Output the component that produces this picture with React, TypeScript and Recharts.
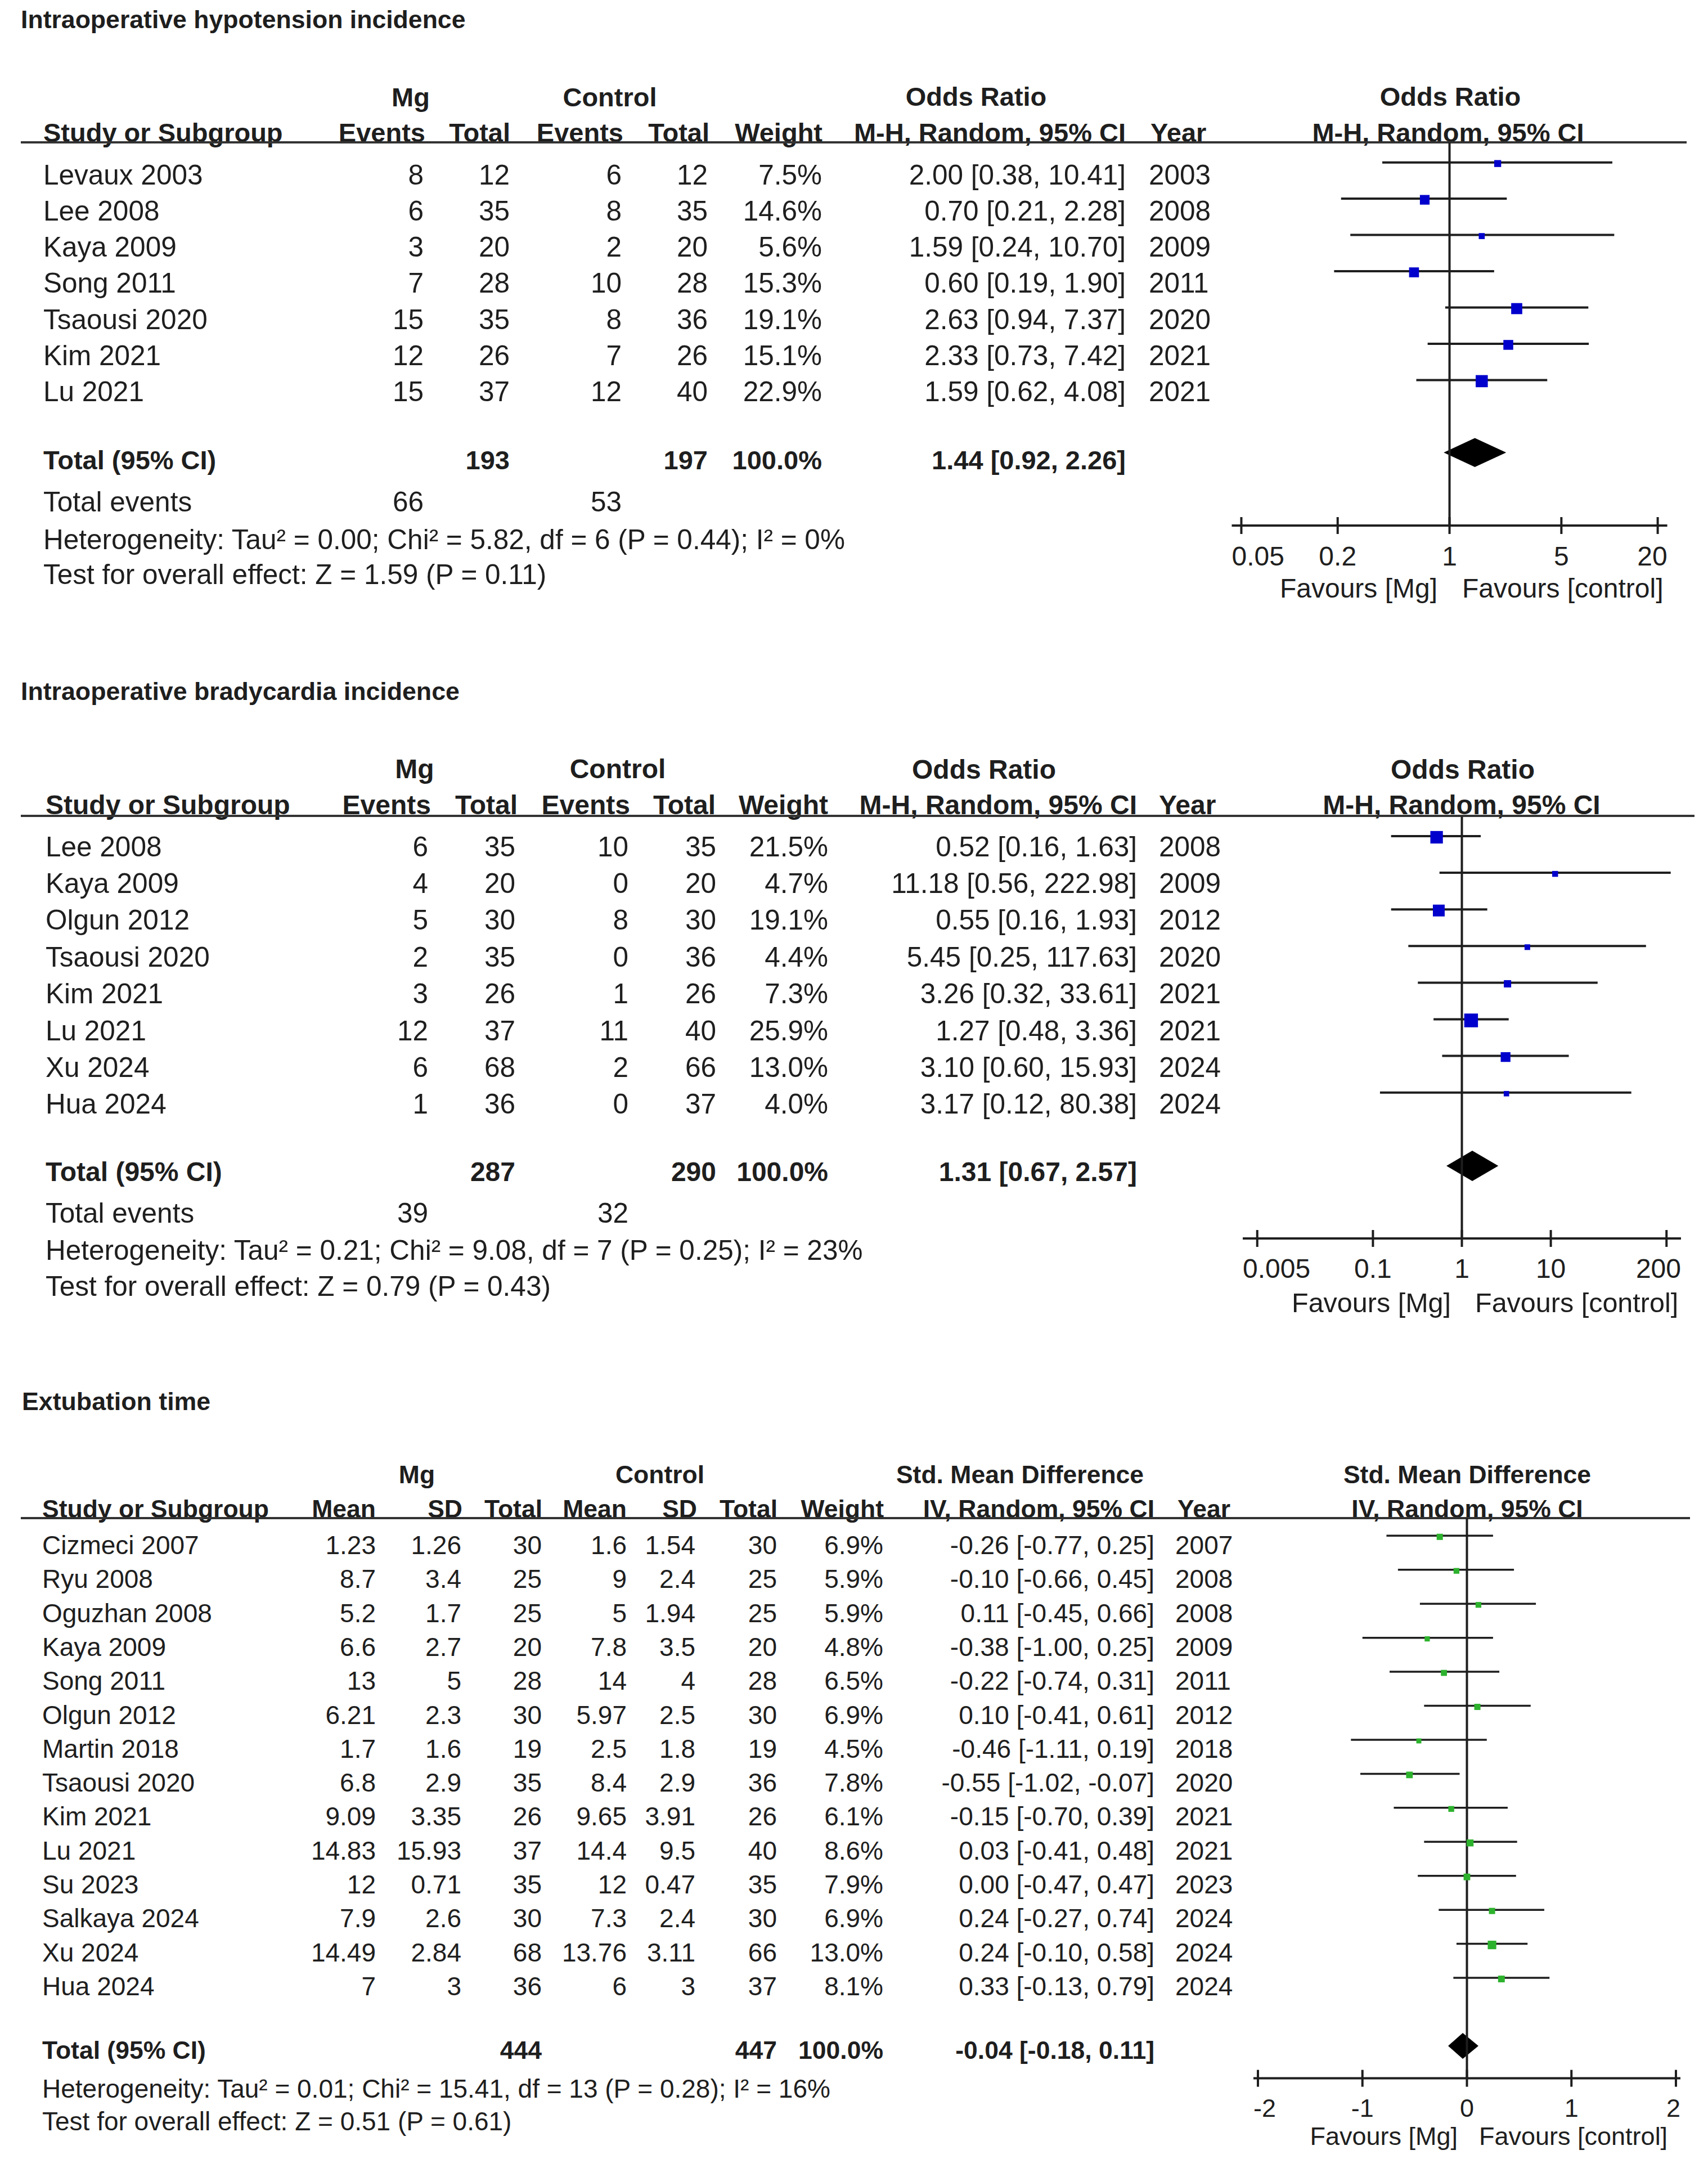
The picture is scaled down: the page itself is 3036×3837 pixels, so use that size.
import React from 'react';
import { ComposedChart, Scatter, XAxis, YAxis, ErrorBar, ReferenceLine, Area } from 'recharts';

const FONT = '"Liberation Sans", Arial, Helvetica, sans-serif';
const INK = '#1e1e1e';
const W = 3036;
const H = 3837;

// ---------------- Panel 1: Intraoperative hypotension incidence ----------------
const p1Studies = ['Levaux 2003', 'Lee 2008', 'Kaya 2009', 'Song 2011', 'Tsaousi 2020', 'Kim 2021', 'Lu 2021'];
const p1MgEvents = [8, 6, 3, 7, 15, 12, 15];
const p1MgTotal = [12, 35, 20, 28, 35, 26, 37];
const p1CtEvents = [6, 8, 2, 10, 8, 7, 12];
const p1CtTotal = [12, 35, 20, 28, 36, 26, 40];
const p1Weight = [7.5, 14.6, 5.6, 15.3, 19.1, 15.1, 22.9];
const p1OR = [2.0, 0.7, 1.59, 0.6, 2.63, 2.33, 1.59];
const p1Lo = [0.38, 0.21, 0.24, 0.19, 0.94, 0.73, 0.62];
const p1Hi = [10.41, 2.28, 10.7, 1.9, 7.37, 7.42, 4.08];
const p1Year = [2003, 2008, 2009, 2011, 2020, 2021, 2021];
const p1Total = { mg: 193, ct: 197, est: 1.44, lo: 0.92, hi: 2.26 };
const p1Events = { mg: 66, ct: 53 };
const p1Het = 'Heterogeneity: Tau² = 0.00; Chi² = 5.82, df = 6 (P = 0.44); I² = 0%';
const p1Test = 'Test for overall effect: Z = 1.59 (P = 0.11)';
const p1Ticks = [0.05, 0.2, 1, 5, 20];

// ---------------- Panel 2: Intraoperative bradycardia incidence ----------------
const p2Studies = ['Lee 2008', 'Kaya 2009', 'Olgun 2012', 'Tsaousi 2020', 'Kim 2021', 'Lu 2021', 'Xu 2024', 'Hua 2024'];
const p2MgEvents = [6, 4, 5, 2, 3, 12, 6, 1];
const p2MgTotal = [35, 20, 30, 35, 26, 37, 68, 36];
const p2CtEvents = [10, 0, 8, 0, 1, 11, 2, 0];
const p2CtTotal = [35, 20, 30, 36, 26, 40, 66, 37];
const p2Weight = [21.5, 4.7, 19.1, 4.4, 7.3, 25.9, 13.0, 4.0];
const p2OR = [0.52, 11.18, 0.55, 5.45, 3.26, 1.27, 3.1, 3.17];
const p2Lo = [0.16, 0.56, 0.16, 0.25, 0.32, 0.48, 0.6, 0.12];
const p2Hi = [1.63, 222.98, 1.93, 117.63, 33.61, 3.36, 15.93, 80.38];
const p2Year = [2008, 2009, 2012, 2020, 2021, 2021, 2024, 2024];
const p2Total = { mg: 287, ct: 290, est: 1.31, lo: 0.67, hi: 2.57 };
const p2Events = { mg: 39, ct: 32 };
const p2Het = 'Heterogeneity: Tau² = 0.21; Chi² = 9.08, df = 7 (P = 0.25); I² = 23%';
const p2Test = 'Test for overall effect: Z = 0.79 (P = 0.43)';
const p2Ticks = [0.005, 0.1, 1, 10, 200];

// ---------------- Panel 3: Extubation time ----------------
const p3Studies = ['Cizmeci 2007', 'Ryu 2008', 'Oguzhan 2008', 'Kaya 2009', 'Song 2011', 'Olgun 2012', 'Martin 2018', 'Tsaousi 2020', 'Kim 2021', 'Lu 2021', 'Su 2023', 'Salkaya 2024', 'Xu 2024', 'Hua 2024'];
const p3MgMean = [1.23, 8.7, 5.2, 6.6, 13, 6.21, 1.7, 6.8, 9.09, 14.83, 12, 7.9, 14.49, 7];
const p3MgSD = [1.26, 3.4, 1.7, 2.7, 5, 2.3, 1.6, 2.9, 3.35, 15.93, 0.71, 2.6, 2.84, 3];
const p3MgTotal = [30, 25, 25, 20, 28, 30, 19, 35, 26, 37, 35, 30, 68, 36];
const p3CtMean = [1.6, 9, 5, 7.8, 14, 5.97, 2.5, 8.4, 9.65, 14.4, 12, 7.3, 13.76, 6];
const p3CtSD = [1.54, 2.4, 1.94, 3.5, 4, 2.5, 1.8, 2.9, 3.91, 9.5, 0.47, 2.4, 3.11, 3];
const p3CtTotal = [30, 25, 25, 20, 28, 30, 19, 36, 26, 40, 35, 30, 66, 37];
const p3Weight = [6.9, 5.9, 5.9, 4.8, 6.5, 6.9, 4.5, 7.8, 6.1, 8.6, 7.9, 6.9, 13.0, 8.1];
const p3SMD = [-0.26, -0.1, 0.11, -0.38, -0.22, 0.1, -0.46, -0.55, -0.15, 0.03, 0.0, 0.24, 0.24, 0.33];
const p3Lo = [-0.77, -0.66, -0.45, -1.0, -0.74, -0.41, -1.11, -1.02, -0.7, -0.41, -0.47, -0.27, -0.1, -0.13];
const p3Hi = [0.25, 0.45, 0.66, 0.25, 0.31, 0.61, 0.19, -0.07, 0.39, 0.48, 0.47, 0.74, 0.58, 0.79];
const p3Year = [2007, 2008, 2008, 2009, 2011, 2012, 2018, 2020, 2021, 2021, 2023, 2024, 2024, 2024];
const p3Total = { mg: 444, ct: 447, est: -0.04, lo: -0.18, hi: 0.11 };
const p3Het = 'Heterogeneity: Tau² = 0.01; Chi² = 15.41, df = 13 (P = 0.28); I² = 16%';
const p3Test = 'Test for overall effect: Z = 0.51 (P = 0.61)';
const p3Ticks = [-2, -1, 0, 1, 2];

// ---------------- helpers ----------------
const f2 = (v: number) => v.toFixed(2);
const ci = (e: number, l: number, h: number) => `${f2(e)} [${f2(l)}, ${f2(h)}]`;
const pct = (v: number) => `${v.toFixed(1)}%`;

function Txt({ x, y, anchor = 'start', size, bold = false, children }: any) {
  return (
    <text x={x} y={y} textAnchor={anchor} dominantBaseline="central" fontSize={size}
      fontWeight={bold ? 700 : 400} fontFamily={FONT} fill={INK}>{children}</text>
  );
}

type ForestCfg = {
  chartTop: number; plotTop: number; axisY: number; plotLeft: number; plotRight: number;
  xDomain: [number, number]; ticks: number[]; scale: 'log' | 'linear';
  yDomain: [number, number]; refX: number; color: string; k: number;
  tickDy: number; tickSize: number; lineW: number; diamondRow: number; diamondH: number;
};

function Forest({ cfg, est, lo, hi, weight, total }: any) {
  const c: ForestCfg = cfg;
  const height = c.axisY - c.chartTop + 140;
  const points = est.map((e: number, i: number) => ({ x: e, y: i, w: weight[i], err: [e - lo[i], hi[i] - e] }));
  const diamond = [
    { x: total.lo, d: [c.diamondRow, c.diamondRow] },
    { x: total.est, d: [c.diamondRow - c.diamondH, c.diamondRow + c.diamondH] },
    { x: total.hi, d: [c.diamondRow, c.diamondRow] },
  ];
  const square = (p: any) => {
    const s = c.k * Math.sqrt(p.payload.w);
    return <rect x={p.cx - s / 2} y={p.cy - s / 2 + 2} width={s} height={s} fill={c.color} />;
  };
  const last = c.ticks.length - 1;
  const tick = (p: any) => {
    const v = p.payload.value;
    const isFirst = v === c.ticks[0];
    const isLast = v === c.ticks[last];
    const tx = isFirst ? c.plotLeft : isLast ? c.plotRight : p.x;
    const anchor = isFirst ? 'start' : isLast ? 'end' : 'middle';
    return (
      <g>
        <line x1={p.x} x2={p.x} y1={p.y - 15} y2={p.y + 15} stroke={INK} strokeWidth={4} />
        <text x={tx} y={p.y + c.tickDy} textAnchor={anchor} dominantBaseline="central"
          fontSize={c.tickSize} fontFamily={FONT} fill={INK}>{String(v)}</text>
      </g>
    );
  };
  return (
    <div style={{ position: 'absolute', left: 0, top: c.chartTop }}>
      <ComposedChart width={W} height={height}
        margin={{ top: c.plotTop - c.chartTop, left: c.plotLeft, right: W - c.plotRight, bottom: 0 }}>
        <XAxis type="number" dataKey="x" scale={c.scale} domain={c.xDomain} ticks={c.ticks}
          allowDataOverflow interval={0} height={140} axisLine={{ stroke: INK, strokeWidth: 4 }}
          tickLine={false} tickSize={0} tickMargin={0} tick={tick} />
        <YAxis type="number" dataKey="y" domain={c.yDomain} reversed hide allowDataOverflow />
        <ReferenceLine x={c.refX} stroke={INK} strokeWidth={4} />
        <Area data={diamond} dataKey="d" type="linear" fill="#000" fillOpacity={1} stroke="none"
          isAnimationActive={false} />
        <Scatter data={points} shape={square} isAnimationActive={false}>
          <ErrorBar dataKey="err" direction="x" width={0} stroke={INK} strokeWidth={c.lineW} />
        </Scatter>
      </ComposedChart>
    </div>
  );
}

// ---------------- layouts ----------------
const L1: ForestCfg = {
  chartTop: 200, plotTop: 253, axisY: 934, plotLeft: 2189.5, plotRight: 2963.6,
  xDomain: [0.04358, 22.95], ticks: p1Ticks, scale: 'log',
  yDomain: [-0.553, 10.012], refX: 1, color: '#0000CC', k: 4.5,
  tickDy: 54, tickSize: 48, lineW: 4, diamondRow: 8, diamondH: 0.4,
};
const L2: ForestCfg = {
  chartTop: 1400, plotTop: 1450.7, axisY: 2201, plotLeft: 2209, plotRight: 2988,
  xDomain: [0.003436, 291], ticks: p2Ticks, scale: 'log',
  yDomain: [-0.542, 10.983], refX: 1, color: '#0000CC', k: 4.8,
  tickDy: 53, tickSize: 48, lineW: 4, diamondRow: 9, diamondH: 0.415,
};
const L3: ForestCfg = {
  chartTop: 2650, plotTop: 2698, axisY: 3693.6, plotLeft: 2228, plotRight: 2987,
  xDomain: [-2.043, 2.043], ticks: p3Ticks, scale: 'linear',
  yDomain: [-0.518, 15.954], refX: 0, color: '#2DB22D', k: 4.2,
  tickDy: 53, tickSize: 45, lineW: 3.5, diamondRow: 15, diamondH: 0.38,
};

function Panel1Text() {
  const fs = 49.5;
  const hs = 47;
  const r0 = 310, st = 64.3;
  return (
    <g>
      <Txt x={37} y={34} size={44.6} bold>Intraoperative hypotension incidence</Txt>
      <Txt x={730} y={172} size={hs} bold anchor="middle">Mg</Txt>
      <Txt x={1084} y={172} size={hs} bold anchor="middle">Control</Txt>
      <Txt x={1735} y={171} size={hs} bold anchor="middle">Odds Ratio</Txt>
      <Txt x={2578} y={171} size={hs} bold anchor="middle">Odds Ratio</Txt>
      <Txt x={77} y={235} size={hs} bold>Study or Subgroup</Txt>
      <Txt x={756} y={235} size={hs} bold anchor="end">Events</Txt>
      <Txt x={907} y={235} size={hs} bold anchor="end">Total</Txt>
      <Txt x={1108} y={235} size={hs} bold anchor="end">Events</Txt>
      <Txt x={1261} y={235} size={hs} bold anchor="end">Total</Txt>
      <Txt x={1462} y={235} size={hs} bold anchor="end">Weight</Txt>
      <Txt x={2001} y={235} size={hs} bold anchor="end">M-H, Random, 95% CI</Txt>
      <Txt x={2045} y={235} size={hs} bold>Year</Txt>
      <Txt x={2574} y={235} size={hs} bold anchor="middle">M-H, Random, 95% CI</Txt>
      <line x1={37} x2={2998} y1={253} y2={253} stroke="#333" strokeWidth={4} />
      {p1Studies.map((s, i) => {
        const y = r0 + st * i;
        return (
          <g key={s}>
            <Txt x={77} y={y} size={fs}>{s}</Txt>
            <Txt x={753} y={y} size={fs} anchor="end">{p1MgEvents[i]}</Txt>
            <Txt x={906} y={y} size={fs} anchor="end">{p1MgTotal[i]}</Txt>
            <Txt x={1105} y={y} size={fs} anchor="end">{p1CtEvents[i]}</Txt>
            <Txt x={1258} y={y} size={fs} anchor="end">{p1CtTotal[i]}</Txt>
            <Txt x={1461} y={y} size={fs} anchor="end">{pct(p1Weight[i])}</Txt>
            <Txt x={2001} y={y} size={fs} anchor="end">{ci(p1OR[i], p1Lo[i], p1Hi[i])}</Txt>
            <Txt x={2042} y={y} size={fs}>{p1Year[i]}</Txt>
          </g>
        );
      })}
      <Txt x={77} y={817} size={hs} bold>Total (95% CI)</Txt>
      <Txt x={906} y={817} size={hs} bold anchor="end">{p1Total.mg}</Txt>
      <Txt x={1258} y={817} size={hs} bold anchor="end">{p1Total.ct}</Txt>
      <Txt x={1461} y={817} size={hs} bold anchor="end">100.0%</Txt>
      <Txt x={2001} y={817} size={hs} bold anchor="end">{ci(p1Total.est, p1Total.lo, p1Total.hi)}</Txt>
      <Txt x={77} y={891} size={fs}>Total events</Txt>
      <Txt x={753} y={891} size={fs} anchor="end">{p1Events.mg}</Txt>
      <Txt x={1105} y={891} size={fs} anchor="end">{p1Events.ct}</Txt>
      <Txt x={77} y={958} size={fs}>{p1Het}</Txt>
      <Txt x={77} y={1020} size={fs}>{p1Test}</Txt>
      <Txt x={2555} y={1045} size={48} anchor="end">Favours [Mg]</Txt>
      <Txt x={2599} y={1045} size={48}>Favours [control]</Txt>
    </g>
  );
}

function Panel2Text() {
  const fs = 49.5;
  const hs = 48;
  const r0 = 1504, st = 65.4;
  return (
    <g>
      <Txt x={37} y={1228} size={44.7} bold>Intraoperative bradycardia incidence</Txt>
      <Txt x={737} y={1366} size={hs} bold anchor="middle">Mg</Txt>
      <Txt x={1098} y={1366} size={hs} bold anchor="middle">Control</Txt>
      <Txt x={1749} y={1367} size={hs} bold anchor="middle">Odds Ratio</Txt>
      <Txt x={2600} y={1367} size={hs} bold anchor="middle">Odds Ratio</Txt>
      <Txt x={81} y={1430} size={hs} bold>Study or Subgroup</Txt>
      <Txt x={766} y={1430} size={hs} bold anchor="end">Events</Txt>
      <Txt x={920} y={1430} size={hs} bold anchor="end">Total</Txt>
      <Txt x={1120} y={1430} size={hs} bold anchor="end">Events</Txt>
      <Txt x={1272} y={1430} size={hs} bold anchor="end">Total</Txt>
      <Txt x={1472} y={1430} size={hs} bold anchor="end">Weight</Txt>
      <Txt x={2021} y={1430} size={hs} bold anchor="end">M-H, Random, 95% CI</Txt>
      <Txt x={2060} y={1430} size={hs} bold>Year</Txt>
      <Txt x={2598} y={1430} size={hs} bold anchor="middle">M-H, Random, 95% CI</Txt>
      <line x1={37} x2={3012} y1={1450} y2={1450} stroke="#333" strokeWidth={4} />
      {p2Studies.map((s, i) => {
        const y = r0 + st * i;
        return (
          <g key={s}>
            <Txt x={81} y={y} size={fs}>{s}</Txt>
            <Txt x={761} y={y} size={fs} anchor="end">{p2MgEvents[i]}</Txt>
            <Txt x={916} y={y} size={fs} anchor="end">{p2MgTotal[i]}</Txt>
            <Txt x={1117} y={y} size={fs} anchor="end">{p2CtEvents[i]}</Txt>
            <Txt x={1273} y={y} size={fs} anchor="end">{p2CtTotal[i]}</Txt>
            <Txt x={1472} y={y} size={fs} anchor="end">{pct(p2Weight[i])}</Txt>
            <Txt x={2021} y={y} size={fs} anchor="end">{ci(p2OR[i], p2Lo[i], p2Hi[i])}</Txt>
            <Txt x={2060} y={y} size={fs}>{p2Year[i]}</Txt>
          </g>
        );
      })}
      <Txt x={81} y={2082} size={hs} bold>Total (95% CI)</Txt>
      <Txt x={916} y={2082} size={hs} bold anchor="end">{p2Total.mg}</Txt>
      <Txt x={1273} y={2082} size={hs} bold anchor="end">{p2Total.ct}</Txt>
      <Txt x={1472} y={2082} size={hs} bold anchor="end">100.0%</Txt>
      <Txt x={2021} y={2082} size={hs} bold anchor="end">{ci(p2Total.est, p2Total.lo, p2Total.hi)}</Txt>
      <Txt x={81} y={2155} size={fs}>Total events</Txt>
      <Txt x={761} y={2155} size={fs} anchor="end">{p2Events.mg}</Txt>
      <Txt x={1117} y={2155} size={fs} anchor="end">{p2Events.ct}</Txt>
      <Txt x={81} y={2221} size={fs}>{p2Het}</Txt>
      <Txt x={81} y={2285} size={fs}>{p2Test}</Txt>
      <Txt x={2579} y={2315} size={48.5} anchor="end">Favours [Mg]</Txt>
      <Txt x={2622} y={2315} size={48.5}>Favours [control]</Txt>
    </g>
  );
}

function Panel3Text() {
  const fs = 46;
  const hs = 44.5;
  const r0 = 2746, st = 60.3;
  return (
    <g>
      <Txt x={39} y={2490} size={44.7} bold>Extubation time</Txt>
      <Txt x={741} y={2620} size={hs} bold anchor="middle">Mg</Txt>
      <Txt x={1173} y={2620} size={hs} bold anchor="middle">Control</Txt>
      <Txt x={1813} y={2620} size={hs} bold anchor="middle">Std. Mean Difference</Txt>
      <Txt x={2608} y={2620} size={hs} bold anchor="middle">Std. Mean Difference</Txt>
      <Txt x={75} y={2681} size={hs} bold>Study or Subgroup</Txt>
      <Txt x={668} y={2681} size={hs} bold anchor="end">Mean</Txt>
      <Txt x={822} y={2681} size={hs} bold anchor="end">SD</Txt>
      <Txt x={964} y={2681} size={hs} bold anchor="end">Total</Txt>
      <Txt x={1114} y={2681} size={hs} bold anchor="end">Mean</Txt>
      <Txt x={1239} y={2681} size={hs} bold anchor="end">SD</Txt>
      <Txt x={1382} y={2681} size={hs} bold anchor="end">Total</Txt>
      <Txt x={1571} y={2681} size={hs} bold anchor="end">Weight</Txt>
      <Txt x={2052} y={2681} size={hs} bold anchor="end">IV, Random, 95% CI</Txt>
      <Txt x={2093} y={2681} size={hs} bold>Year</Txt>
      <Txt x={2608} y={2681} size={hs} bold anchor="middle">IV, Random, 95% CI</Txt>
      <line x1={37} x2={3004} y1={2698} y2={2698} stroke="#333" strokeWidth={4} />
      {p3Studies.map((s, i) => {
        const y = r0 + st * i;
        return (
          <g key={s}>
            <Txt x={75} y={y} size={fs}>{s}</Txt>
            <Txt x={668} y={y} size={fs} anchor="end">{String(p3MgMean[i])}</Txt>
            <Txt x={820} y={y} size={fs} anchor="end">{String(p3MgSD[i])}</Txt>
            <Txt x={963} y={y} size={fs} anchor="end">{p3MgTotal[i]}</Txt>
            <Txt x={1114} y={y} size={fs} anchor="end">{String(p3CtMean[i])}</Txt>
            <Txt x={1236} y={y} size={fs} anchor="end">{String(p3CtSD[i])}</Txt>
            <Txt x={1381} y={y} size={fs} anchor="end">{p3CtTotal[i]}</Txt>
            <Txt x={1570} y={y} size={fs} anchor="end">{pct(p3Weight[i])}</Txt>
            <Txt x={2052} y={y} size={fs} anchor="end">{ci(p3SMD[i], p3Lo[i], p3Hi[i])}</Txt>
            <Txt x={2089} y={y} size={fs}>{p3Year[i]}</Txt>
          </g>
        );
      })}
      <Txt x={75} y={3643} size={hs} bold>Total (95% CI)</Txt>
      <Txt x={963} y={3643} size={hs} bold anchor="end">{p3Total.mg}</Txt>
      <Txt x={1381} y={3643} size={hs} bold anchor="end">{p3Total.ct}</Txt>
      <Txt x={1570} y={3643} size={hs} bold anchor="end">100.0%</Txt>
      <Txt x={2052} y={3643} size={hs} bold anchor="end">{ci(p3Total.est, p3Total.lo, p3Total.hi)}</Txt>
      <Txt x={75} y={3712} size={fs}>{p3Het}</Txt>
      <Txt x={75} y={3770} size={fs}>{p3Test}</Txt>
      <Txt x={2591} y={3796} size={45} anchor="end">Favours [Mg]</Txt>
      <Txt x={2629} y={3796} size={45}>Favours [control]</Txt>
    </g>
  );
}

export default function App() {
  return (
    <div style={{ position: 'absolute', left: 0, top: 0, width: W, height: H, background: '#fff', overflow: 'hidden' }}>
      <svg width={W} height={H} style={{ position: 'absolute', left: 0, top: 0 }}>
        <Panel1Text />
        <Panel2Text />
        <Panel3Text />
      </svg>
      <Forest cfg={L1} est={p1OR} lo={p1Lo} hi={p1Hi} weight={p1Weight} total={p1Total} />
      <Forest cfg={L2} est={p2OR} lo={p2Lo} hi={p2Hi} weight={p2Weight} total={p2Total} />
      <Forest cfg={L3} est={p3SMD} lo={p3Lo} hi={p3Hi} weight={p3Weight} total={p3Total} />
    </div>
  );
}
